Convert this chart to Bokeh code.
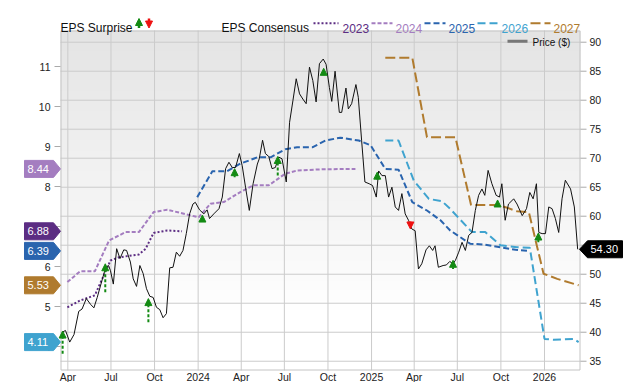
from datetime import datetime
import pandas as pd
from bokeh.plotting import figure
from bokeh.models import Range1d, Arrow, NormalHead, ColumnDataSource
from bokeh.core.properties import value
from bokeh.embed import file_html
from bokeh.resources import INLINE

FONT = "Liberation Sans"

# ---------------- data ----------------
price_dates = [
    "2023-03-20", "2023-03-27", "2023-04-05", "2023-04-14", "2023-04-24", "2023-05-01", "2023-05-10",
    "2023-05-19", "2023-05-26", "2023-06-02", "2023-06-13", "2023-06-20", "2023-06-26", "2023-06-30",
    "2023-07-06", "2023-07-13", "2023-07-20", "2023-07-28", "2023-08-03", "2023-08-11", "2023-08-17",
    "2023-08-24", "2023-08-31", "2023-09-07", "2023-09-14", "2023-09-21", "2023-09-28", "2023-10-05",
    "2023-10-12", "2023-10-19", "2023-10-26", "2023-11-02", "2023-11-09", "2023-11-16", "2023-11-23",
    "2023-11-30", "2023-12-07", "2023-12-14", "2023-12-21", "2023-12-26", "2024-01-04", "2024-01-13",
    "2024-01-20", "2024-01-25", "2024-02-03", "2024-02-14", "2024-02-21", "2024-02-28", "2024-03-06",
    "2024-03-13", "2024-03-20", "2024-03-28", "2024-04-03", "2024-04-10", "2024-04-18", "2024-04-26",
    "2024-05-05", "2024-05-09", "2024-05-16", "2024-05-22", "2024-05-29", "2024-06-05", "2024-06-12",
    "2024-06-19", "2024-06-26", "2024-07-05", "2024-07-12", "2024-07-19", "2024-07-26", "2024-08-02",
    "2024-08-09", "2024-08-16", "2024-08-23", "2024-08-30", "2024-09-06", "2024-09-13", "2024-09-21",
    "2024-09-27", "2024-10-04", "2024-10-09", "2024-10-16", "2024-10-25", "2024-10-30", "2024-11-08",
    "2024-11-13", "2024-11-20", "2024-11-29", "2024-12-04", "2024-12-11", "2024-12-18", "2024-12-27",
    "2025-01-03", "2025-01-11", "2025-01-16", "2025-01-23", "2025-01-30", "2025-02-06", "2025-02-13",
    "2025-02-20", "2025-02-27", "2025-03-06", "2025-03-13", "2025-03-20", "2025-03-27", "2025-04-03",
    "2025-04-10", "2025-04-17", "2025-04-26", "2025-05-03", "2025-05-10", "2025-05-15", "2025-05-22",
    "2025-06-01", "2025-06-08", "2025-06-15", "2025-06-22", "2025-06-27", "2025-07-04", "2025-07-11",
    "2025-07-18", "2025-07-25", "2025-08-01", "2025-08-08", "2025-08-15", "2025-08-22", "2025-08-28",
    "2025-09-04", "2025-09-12", "2025-09-21", "2025-09-28", "2025-10-03", "2025-10-10", "2025-10-17",
    "2025-10-28", "2025-11-04", "2025-11-15", "2025-11-24", "2025-12-01", "2025-12-08", "2025-12-15",
    "2025-12-20", "2025-12-27", "2026-01-03", "2026-01-10", "2026-01-17", "2026-01-24", "2026-01-31",
    "2026-02-07", "2026-02-14", "2026-02-25", "2026-03-05", "2026-03-12",
]
price_values = [
    40.0, 40.3, 38.3, 39.6, 43.6, 44.0, 45.8,
    44.8, 44.2, 46.0, 49.2, 51.2, 51.5, 50.6,
    48.3, 54.4, 52.7, 54.2, 54.1, 52.1, 49.2,
    47.9, 51.5, 50.1, 47.5, 46.2, 46.0, 44.3,
    43.9, 42.5, 43.2, 51.1, 51.2, 53.8, 53.1,
    54.1, 57.0, 60.4, 62.1, 62.4, 61.1, 60.4,
    61.1, 59.6, 60.4, 61.3, 63.3, 68.2, 69.3,
    68.4, 68.4, 70.8, 68.7, 65.0, 61.0, 65.6,
    69.0, 69.9, 73.1, 70.8, 70.3, 68.2, 68.4,
    70.2, 69.9, 65.9, 76.2, 79.9, 83.7, 81.1,
    80.2, 79.4, 85.7, 83.4, 79.7, 86.3, 87.1,
    86.2, 82.2, 79.8, 85.0, 77.9, 77.9, 82.1,
    78.5, 79.4, 82.7, 80.5, 73.1, 65.9, 65.6,
    65.3, 63.3, 67.8, 67.0, 67.0, 63.3, 65.0,
    61.6, 61.0, 63.9, 60.4, 59.3, 57.8, 57.5,
    50.9, 51.8, 54.2, 54.9, 54.1, 54.9, 51.2,
    51.5, 51.6, 52.2, 51.8, 52.4, 53.8, 55.5,
    54.1, 56.7, 57.2, 61.0, 63.6, 64.7, 63.6,
    67.9, 65.6, 63.6, 63.3, 65.6, 59.3, 62.1,
    63.0, 62.1, 60.1, 61.3, 64.1, 63.0, 65.6,
    57.2, 57.0, 57.0, 61.6, 61.3, 59.6, 57.2,
    63.0, 66.2, 64.7, 61.6, 54.30,
]

eps2023_dates = ["2023-03-31", "2023-04-27", "2023-05-28", "2023-06-30", "2023-07-18", "2023-08-29",
                 "2023-09-12", "2023-09-29", "2023-10-28", "2023-11-28"]
eps2023_values = [4.98, 5.15, 5.28, 6.15, 6.23, 6.30, 6.44, 6.84, 6.90, 6.88]

eps2024_dates = ["2023-03-31", "2023-04-27", "2023-05-28", "2023-06-27", "2023-08-01", "2023-08-29",
                 "2023-09-29", "2023-10-28", "2023-12-26", "2024-01-02", "2024-01-27", "2024-02-24",
                 "2024-03-30", "2024-04-27", "2024-05-29", "2024-07-03", "2024-07-28", "2024-09-19",
                 "2024-11-28"]
eps2024_values = [5.61, 5.88, 5.88, 6.65, 6.86, 6.86, 7.36, 7.42, 7.25, 7.23, 7.57, 7.61,
                  7.86, 8.03, 8.03, 8.32, 8.40, 8.43, 8.44]

eps2025_dates = ["2023-12-30", "2024-01-31", "2024-03-02", "2024-03-30", "2024-05-05", "2024-06-02",
                 "2024-07-03", "2024-07-28", "2024-08-29", "2024-09-26", "2024-10-27", "2024-12-05",
                 "2024-12-30", "2025-01-30", "2025-02-27", "2025-03-28", "2025-04-28", "2025-05-27",
                 "2025-06-16", "2025-07-28", "2025-08-26", "2025-09-30", "2025-11-01", "2025-12-01"]
eps2025_values = [7.73, 8.38, 8.38, 8.57, 8.73, 8.73, 8.93, 8.98, 8.98, 9.15, 9.22, 9.15,
                  9.03, 8.44, 8.42, 7.61, 7.40, 7.15, 6.90, 6.57, 6.55, 6.48, 6.42, 6.39]

eps2026_dates = ["2025-01-30", "2025-02-27", "2025-03-31", "2025-05-02", "2025-05-30", "2025-06-16",
                 "2025-08-01", "2025-08-29", "2025-09-30", "2025-11-04", "2025-12-01", "2026-01-01",
                 "2026-01-20", "2026-03-04", "2026-03-14"]
eps2026_values = [9.15, 9.15, 8.15, 7.69, 7.63, 7.44, 6.86, 6.86, 6.53, 6.48, 6.47, 4.19,
                  4.17, 4.19, 4.11]

eps2027_dates = ["2025-01-30", "2025-03-28", "2025-04-28", "2025-06-27", "2025-07-30", "2025-09-23",
                 "2025-10-14", "2025-11-04", "2025-11-29", "2025-12-30", "2026-01-28", "2026-03-14"]
eps2027_values = [11.22, 11.22, 9.23, 9.23, 7.54, 7.54, 7.47, 7.38, 7.36, 5.82, 5.69, 5.53]

surprise_dates = ["2023-03-21", "2023-06-19", "2023-09-18", "2024-01-10", "2024-03-18", "2024-06-17",
                  "2024-09-22", "2025-01-13", "2025-03-24", "2025-06-22", "2025-09-24", "2025-12-19"]
surprise_from = [36.3, 46.9, 41.7, 59.0, 66.7, 67.0, 84.3, 66.3, 59.1, 50.9, 61.6, 55.5]
surprise_to = [40.2, 51.8, 45.8, 60.2, 68.2, 70.3, 85.5, 67.6, 57.8, 52.4, 62.8, 57.1]

x_tick_dates = ["2023-04-01", "2023-07-01", "2023-10-01", "2024-01-01", "2024-04-01", "2024-07-01",
                "2024-10-01", "2025-01-01", "2025-04-01", "2025-07-01", "2025-10-01", "2026-01-01"]
x_tick_labels = ["Apr", "Jul", "Oct", "2024", "Apr", "Jul", "Oct", "2025", "Apr", "Jul", "Oct", "2026"]
eps_ticks = [4, 5, 6, 7, 8, 9, 10, 11]
price_ticks = [35, 40, 45, 50, 55, 60, 65, 70, 75, 80, 85, 90]

series_names = ["2023", "2024", "2025", "2026", "2027"]
series_dates = [eps2023_dates, eps2024_dates, eps2025_dates, eps2026_dates, eps2027_dates]
series_values = [eps2023_values, eps2024_values, eps2025_values, eps2026_values, eps2027_values]

# ---------------- layout / styles ----------------
colors = ["#5c2d83", "#a47dc0", "#2a64ae", "#3fa3cf", "#b07b2e"]
dashes = ["2 2", "4 2", "6 3", "8 4", "10 4"]
GREEN = "#138a13"
RED = "#ee1111"
GRID = "#cbcbcb"
TXT = "#222222"

W, H = 640, 382
L, R, T, B = 60, 580, 30, 370          # plot area in pixels
X_IN = (pd.Timestamp("2023-03-16 12:00"), pd.Timestamp("2026-03-18"))
EPS_IN = (3.4, 11.9)
P_IN = (33.4, 92.02)

mpp = (X_IN[1] - X_IN[0]) / (R - L)
x_full = ((X_IN[0] - L * mpp).to_pydatetime(), (X_IN[1] + (W - R) * mpp).to_pydatetime())


def extend(lo, hi):
    per = (hi - lo) / (B - T)
    return lo - (H - B) * per, hi + T * per, per


eps_lo, eps_hi, eps_per = extend(*EPS_IN)
p_lo, p_hi, p_per = extend(*P_IN)

p = figure(width=W, height=H, x_axis_type="datetime", output_backend="svg",
           toolbar_location=None, title=None, x_axis_location=None, y_axis_location=None,
           x_range=Range1d(*x_full), y_range=Range1d(eps_lo, eps_hi),
           min_border=0, min_border_left=0, min_border_right=0, min_border_top=0,
           min_border_bottom=0)
p.extra_y_ranges = {"price": Range1d(p_lo, p_hi), "px": Range1d(H, 0)}
p.extra_x_ranges = {"px": Range1d(0, W)}
p.background_fill_color = "#ffffff"
p.border_fill_color = "#ffffff"
p.outline_line_color = None
p.grid.visible = False

PX = dict(x_range_name="px", y_range_name="px")

# gradient background of the plot area (style)
N = 34
band = (B - T) / N
tops, bots, cols = [], [], []
for i in range(N):
    t = (i + 0.5) / N
    g = min(1.0, t / 0.85)
    c = int(round(228 + (255 - 228) * g))
    tops.append(T + i * band)
    bots.append(T + (i + 1) * band + 0.6)
    cols.append("#%02x%02x%02x" % (c, c, c))
p.quad(left=L, right=R, top=tops, bottom=bots, fill_color=cols, line_color=None, **PX)

# grid lines
xt = pd.to_datetime(x_tick_dates)
p.segment(x0=xt, x1=xt, y0=T, y1=B, y_range_name="px", line_color=GRID, line_width=1)
p.segment(x0=L, x1=R, y0=price_ticks, y1=price_ticks, x_range_name="px",
          y_range_name="price", line_color=GRID, line_width=1)
# frame outline
p.line(x=[L + 0.5, R - 0.5, R - 0.5, L + 0.5, L + 0.5], y=[T + 0.5, T + 0.5, B - 0.5, B - 0.5, T + 0.5],
       line_color="#c4c4c4", line_width=1, **PX)

# axes: tick marks and labels
p.segment(x0=L - 6, x1=L, y0=eps_ticks, y1=eps_ticks, x_range_name="px",
          line_color="#aaaaaa", line_width=1)
p.text(x=L - 10, y=eps_ticks, text=[str(t) for t in eps_ticks], x_range_name="px",
       text_font=value(FONT), text_font_size=value("10.5px"), text_color=TXT,
       text_align="right", text_baseline="middle")
p.segment(x0=R, x1=R + 6, y0=price_ticks, y1=price_ticks, x_range_name="px",
          y_range_name="price", line_color="#aaaaaa", line_width=1)
p.text(x=R + 9, y=price_ticks, text=[str(t) for t in price_ticks], x_range_name="px",
       y_range_name="price", text_font=value(FONT), text_font_size=value("10.5px"),
       text_color=TXT, text_align="left", text_baseline="middle")
p.text(x=xt, y=B + 6.5, text=x_tick_labels, y_range_name="px",
       text_font=value(FONT), text_font_size=value("10.5px"), text_color=TXT,
       text_align="center", text_baseline="middle")

# consensus lines
for name, d, v, col, dash in zip(series_names, series_dates, series_values, colors, dashes):
    p.line(x=pd.to_datetime(d), y=v, line_color=col, line_width=2, line_dash=dash)

# price line
p.line(x=pd.to_datetime(price_dates), y=price_values, y_range_name="price",
       line_color="#111111", line_width=1)

# surprise arrows
up = [i for i in range(len(surprise_dates)) if surprise_to[i] >= surprise_from[i]]
dn = [i for i in range(len(surprise_dates)) if surprise_to[i] < surprise_from[i]]
for idx, col in ((up, GREEN), (dn, RED)):
    src = ColumnDataSource(dict(
        x=pd.to_datetime([surprise_dates[i] for i in idx]),
        y0=[surprise_from[i] for i in idx],
        y1=[surprise_to[i] for i in idx]))
    p.add_layout(Arrow(end=NormalHead(size=7, fill_color=col, line_color=col, line_width=1),
                       x_start="x", y_start="y0", x_end="x", y_end="y1", source=src,
                       y_range_name="price", line_color=col, line_width=2, line_dash="3 2"))

# value tags on the left (last consensus value of each year)
h_eps = 8.5 * eps_per
for v, col in zip(series_values, colors):
    last = v[-1]
    p.patch(x=[24, 53, L, 53, 24], y=[last + h_eps, last + h_eps, last, last - h_eps, last - h_eps],
            x_range_name="px", fill_color=col, line_color=col)
    p.text(x=27, y=last, text=[f"{last:.2f}"], x_range_name="px", text_font=value(FONT),
           text_font_size=value("11px"), text_color="#ffffff", text_align="left",
           text_baseline="middle")

# price tag on the right
h_p = 8.5 * p_per
lp = price_values[-1]
p.patch(x=[R - 1, 587, 622, 622, 587], y=[lp, lp + h_p, lp + h_p, lp - h_p, lp - h_p],
        x_range_name="px", y_range_name="price", fill_color="#000000", line_color="#000000")
p.text(x=590, y=lp, text=[f"{lp:.2f}"], x_range_name="px", y_range_name="price",
       text_font=value(FONT), text_font_size=value("11px"), text_color="#ffffff",
       text_align="left", text_baseline="middle")


# legend row
def label(x, y, text, color="#111111", size="12px", baseline="alphabetic"):
    p.text(x=x, y=y, text=[text], text_font=value(FONT), text_font_size=value(size),
           text_color=color, text_align="left", text_baseline=baseline, **PX)


label(60, 27.5, "EPS Surprise")
p.add_layout(Arrow(x_start=138.5, y_start=27.5, x_end=138.5, y_end=18, **PX,
                   end=NormalHead(size=7, fill_color=GREEN, line_color=GREEN, line_width=1),
                   line_color=GREEN, line_width=2.5))
p.add_layout(Arrow(x_start=148.5, y_start=18, x_end=148.5, y_end=27.5, **PX,
                   end=NormalHead(size=7, fill_color=RED, line_color=RED, line_width=1),
                   line_color=RED, line_width=2.5))
label(221, 27.5, "EPS Consensus")
leg_x = [(313, 338, 342), (371, 392, 395), (424, 445, 448), (477, 497, 501), (530, 550, 553)]
for (x0, x1, tx), name, col, dash in zip(leg_x, series_names, colors, dashes):
    p.line(x=[x0, x1], y=[22.7, 22.7], line_color=col, line_width=2, line_dash=dash, **PX)
    label(tx, 27.5, name, color=col)

p.line(x=[507, 527], y=[40.7, 40.7], line_color="#777777", line_width=3, **PX)
label(532, 41.5, "Price ($)", size="10px", baseline="middle")

open("out.html", "w").write(file_html(p, INLINE))
